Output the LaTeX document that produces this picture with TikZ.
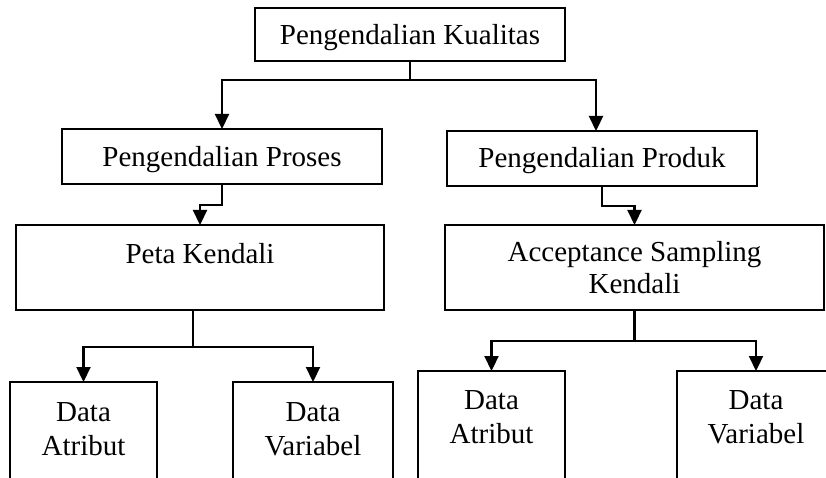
\documentclass[tikz,border=0pt]{standalone}
\usepackage{fontspec}
\setmainfont{Liberation Serif}
\usetikzlibrary{arrows.meta}
\begin{document}
\begin{tikzpicture}[x=1pt,y=-1pt,
  box/.style={draw, line width=1.3pt, inner sep=0pt, outer sep=0pt, align=center,
    font=\fontsize{29}{34}\selectfont},
  stemline/.style={line width=1.3pt},
  conn/.style={line width=2.2pt},
  arr/.style={conn, -{Triangle[length=15pt,width=14pt]}}]
\useasboundingbox (0,0) rectangle (826,478);
\clip (0,0) rectangle (826,478);
% level 1
\node[box, anchor=north, minimum width=310pt, text height=37pt, text depth=16pt]
  (K) at (410,8) {Pengendalian Kualitas};
% level 2
\node[box, anchor=north, minimum width=320pt, text height=38pt, text depth=17pt]
  (PP) at (222,129) {Pengendalian Proses};
\node[box, anchor=north, minimum width=310pt, text height=37pt, text depth=18pt]
  (PR) at (602,131) {Pengendalian Produk};
% level 3
\node[box, anchor=north, minimum width=368pt, text height=38pt, text depth=47pt]
  (PK) at (200,225) {Peta Kendali};
\node[box, anchor=north, minimum width=379pt, minimum height=85pt, inner sep=0pt]
  (AS) at (634.5,225) {Acceptance Sampling\\[-2pt]Kendali};
% level 4
\node[box, anchor=north, minimum width=147pt, text height=73pt, text depth=60pt]
  (DA1) at (83.5,382) {Data\\Atribut};
\node[box, anchor=north, minimum width=160pt, text height=73pt, text depth=60pt]
  (DV1) at (313,382) {Data\\Variabel};
\node[box, anchor=north, minimum width=147pt, text height=72pt, text depth=60pt]
  (DA2) at (491.5,371) {Data\\Atribut};
\node[box, anchor=north, minimum width=158pt, text height=72pt, text depth=60pt]
  (DV2) at (756,371) {Data\\Variabel};
% junctions
\coordinate (jK) at (410,80);
\coordinate (jPP) at (222,205);
\coordinate (jPR) at (602,206);
\coordinate (jPK) at (193,347);
\coordinate (jAS) at (634.5,341);
% connectors
\draw[stemline] (K.south) -- (jK);
\draw[arr] ([xshift=0.5pt]jK) -| (PP.north);
\draw[arr] ([xshift=-0.5pt]jK) -| ([xshift=-6pt]PR.north);
\draw[arr] (PP.south) -- (jPP) -| (PK.north);
\draw[arr] (PR.south) -- (jPR) -| (AS.north);
\draw[conn] (PK.south -| jPK) -- (jPK);
\draw[arr] (jPK) -| (DA1.north);
\draw[arr] (jPK) -| (DV1.north);
\draw[conn] (AS.south) -- (jAS);
\draw[arr] (jAS) -| (DA2.north);
\draw[arr] (jAS) -| (DV2.north);
\end{tikzpicture}
\end{document}
